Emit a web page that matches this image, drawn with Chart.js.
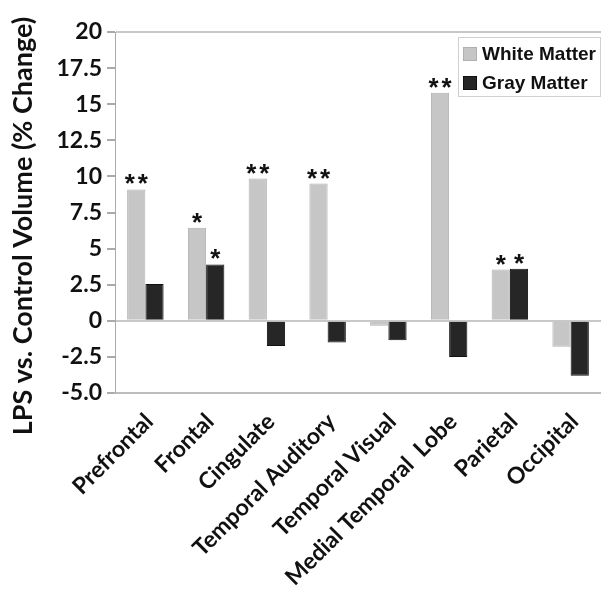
<!DOCTYPE html>
<html>
<head>
<meta charset="utf-8">
<script src="https://cdn.jsdelivr.net/npm/chart.js@4.4.1/dist/chart.umd.min.js"></script>
<style>
  html, body { margin: 0; padding: 0; background: #ffffff; }
  #wrap { width: 601px; height: 602px; position: relative; }
</style>
</head>
<body>
<div id="wrap"><canvas id="c" width="601" height="602"></canvas></div>
<script>
const categories = ["Prefrontal", "Frontal", "Cingulate", "Temporal Auditory", "Temporal Visual", "Medial Temporal  Lobe", "Parietal", "Occipital"];
const whiteMatter = [9.1, 6.45, 9.85, 9.5, -0.35, 15.8, 3.55, -1.8];
const grayMatter = [2.55, 3.9, -1.75, -1.5, -1.35, -2.5, 3.6, -3.8];
const whiteStars = [2, 1, 2, 2, 0, 2, 1, 0];
const grayStars = [0, 1, 0, 0, 0, 0, 1, 0];
const yTickLabels = ["-5.0", "-2.5", "0", "2.5", "5", "7.5", "10", "12.5", "15", "17.5", "20"];
const seriesNames = ["White Matter", "Gray Matter"];
const yTitle = "LPS vs. Control Volume (% Change)";

const starsPlugin = {
  id: 'stars',
  afterDatasetsDraw(chart) {
    const ctx = chart.ctx;
    const starSets = [whiteStars, grayStars];
    ctx.save();
    ctx.fillStyle = '#111';
    ctx.font = 'bold 26px "Liberation Sans", Arial, sans-serif';
    ctx.textAlign = 'center';
    ctx.textBaseline = 'alphabetic';
    starSets.forEach((set, di) => {
      const meta = chart.getDatasetMeta(di);
      set.forEach((n, j) => {
        if (!n) return;
        const bar = meta.data[j];
        const top = Math.min(bar.y, bar.base);
        const spacing = 13;
        for (let k = 0; k < n; k++) {
          const x = bar.x + (k - (n - 1) / 2) * spacing;
          ctx.fillText('*', x, top + 3);
        }
      });
    });
    ctx.restore();
  }
};

const titlePlugin = {
  id: 'yTitle',
  afterDraw(chart) {
    const ctx = chart.ctx;
    ctx.save();
    ctx.translate(23, 226);
    ctx.rotate(-Math.PI / 2);
    ctx.fillStyle = '#111';
    ctx.font = 'bold 27px Lato, sans-serif';
    ctx.textAlign = 'center';
    ctx.textBaseline = 'middle';
    ctx.fillText(yTitle, 0, 0);
    ctx.restore();
  }
};

const legendPlugin = {
  id: 'customLegend',
  afterDraw(chart) {
    const ctx = chart.ctx;
    ctx.save();
    const bx = 458, by = 37, bw = 142, bh = 59;
    ctx.fillStyle = '#ffffff';
    ctx.fillRect(bx, by, bw, bh);
    ctx.strokeStyle = '#d0d0d0';
    ctx.lineWidth = 1;
    ctx.strokeRect(bx + 0.5, by + 0.5, bw, bh);
    const rows = [54, 83];
    chart.data.datasets.forEach((ds, i) => {
      const cy = rows[i];
      ctx.fillStyle = ds.backgroundColor;
      ctx.fillRect(463, cy - 7, 14, 14);
      ctx.strokeStyle = ds.borderColor;
      ctx.strokeRect(463.5, cy - 6.5, 13, 13);
      ctx.fillStyle = '#111';
      ctx.font = 'bold 19px "Liberation Sans", Arial, sans-serif';
      ctx.textAlign = 'left';
      ctx.textBaseline = 'middle';
      ctx.fillText(seriesNames[i], 482, cy + 1);
    });
    ctx.restore();
  }
};

new Chart(document.getElementById('c'), {
  type: 'bar',
  data: {
    labels: categories,
    datasets: [
      { label: seriesNames[0], data: whiteMatter, backgroundColor: '#c6c6c6', borderColor: '#b0b0b0', borderWidth: 1, categoryPercentage: 0.6, barPercentage: 1.0 },
      { label: seriesNames[1], data: grayMatter, backgroundColor: '#262626', borderColor: '#111111', borderWidth: 1, categoryPercentage: 0.6, barPercentage: 1.0 }
    ]
  },
  options: {
    responsive: false,
    animation: false,
    devicePixelRatio: 1,
    layout: { padding: { top: 32, right: 0, bottom: 0, left: 0 } },
    plugins: {
      legend: { display: false },
      tooltip: { enabled: false },
      title: { display: false }
    },
    scales: {
      x: {
        grid: { display: false, drawTicks: false },
        border: { display: true, color: '#bdbdbd', width: 2 },
        ticks: {
          autoSkip: false,
          minRotation: 45,
          maxRotation: 45,
          padding: 15,
          labelOffset: 4,
          color: '#111',
          font: { family: 'Lato', weight: 'bold', size: 23 }
        },
        afterFit(scale) { scale.height = 209; scale.paddingRight = 0; scale.paddingLeft = 0; }
      },
      y: {
        min: -5,
        max: 20,
        ticks: {
          stepSize: 2.5,
          padding: 5,
          color: '#111',
          font: { family: 'Lato', weight: 'bold', size: 23 },
          callback: function(value, index) { return yTickLabels[index]; }
        },
        grid: {
          drawOnChartArea: true,
          tickLength: 8,
          tickColor: '#aaaaaa',
          color: (c) => (c.tick && (c.tick.value === 20 || c.tick.value === 0)) ? '#c8c8c8' : 'rgba(0,0,0,0)',
          lineWidth: 2
        },
        border: { display: true, color: '#aaaaaa', width: 1 },
        title: { display: false },
        afterFit(scale) { scale.width = 115; }
      }
    }
  },
  plugins: [starsPlugin, titlePlugin, legendPlugin]
});
</script>
</body>
</html>
